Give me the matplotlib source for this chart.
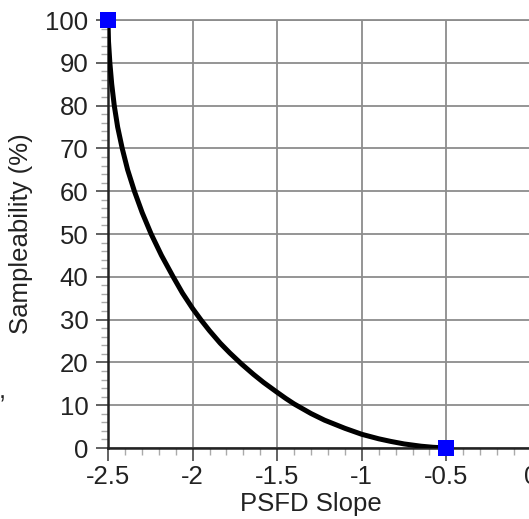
import matplotlib
matplotlib.use("Agg")
import matplotlib.pyplot as plt
from matplotlib.ticker import MultipleLocator

# Data
slope = [-2.5, -2.497, -2.489, -2.478, -2.463, -2.443, -2.416, -2.384, -2.344,
         -2.298, -2.245, -2.184, -2.115, -2.06, -2.0, -1.95, -1.9, -1.837,
         -1.78, -1.71, -1.64, -1.58, -1.5, -1.45, -1.4, -1.3, -1.22, -1.1,
         -1.0, -0.9, -0.83, -0.75, -0.65, -0.58, -0.5]
sampleability = [100, 95, 90, 85, 80, 75, 70, 65, 60,
                 55, 50, 45, 40, 36.2, 32.6, 29.9, 27.4, 24.5,
                 22.2, 19.6, 17.2, 15.3, 13.0, 11.6, 10.3, 8.05, 6.5, 4.6,
                 3.2, 2.15, 1.55, 0.95, 0.42, 0.17, 0]
end_x = [-2.5, -0.5]
end_y = [100, 0]
x_ticks = [-2.5, -2, -1.5, -1, -0.5, 0]
x_tick_labels = ["-2.5", "-2", "-1.5", "-1", "-0.5", "0"]
y_ticks = [0, 10, 20, 30, 40, 50, 60, 70, 80, 90, 100]

plt.rcParams['font.family'] = ['Liberation Sans', 'DejaVu Sans']
plt.rcParams['axes.unicode_minus'] = False

W, H = 529, 519
fig = plt.figure(figsize=(W / 100, H / 100), dpi=100)
left, right, top, bottom = 108, 531, 20, 448
ax = fig.add_axes([left / W, 1 - bottom / H, (right - left) / W, (bottom - top) / H])

ax.set_xlim(-2.5, 0)
ax.set_ylim(0, 100)
ax.set_xticks(x_ticks)
ax.set_xticklabels(x_tick_labels)
ax.set_yticks(y_ticks)
ax.xaxis.set_minor_locator(MultipleLocator(0.1))
ax.yaxis.set_minor_locator(MultipleLocator(2))

ax.grid(True, which='major', color='#8c8c8c', linewidth=1.3)
ax.set_axisbelow(True)

ax.plot(slope, sampleability, color='black', linewidth=3.6,
        solid_capstyle='round', solid_joinstyle='round', zorder=3)
ax.plot(end_x, end_y, linestyle='none', marker='s', markersize=11.5,
        color='#0000ff', markeredgewidth=0, clip_on=False, zorder=5)

for s in ['left', 'bottom']:
    ax.spines[s].set_linewidth(1.8)
    ax.spines[s].set_color('#222222')
ax.spines['top'].set_linewidth(1.3)
ax.spines['top'].set_color('#8c8c8c')
ax.spines['right'].set_visible(False)

ax.tick_params(axis='both', which='major', direction='out', length=9, width=1.3,
               color='#555555', labelsize=18.5, labelcolor='#222222')
ax.tick_params(axis='x', which='major', pad=3)
ax.tick_params(axis='y', which='major', pad=5)
ax.tick_params(axis='both', which='minor', direction='out', length=5, width=1.0,
               color='#aaaaaa')

ax.set_xlabel('PSFD Slope', fontsize=18.5, color='#222222')
ax.set_ylabel('Sampleability (%)', fontsize=18.5, color='#222222')
ax.xaxis.set_label_coords(0.48, -0.103)
ax.yaxis.set_label_coords(-0.177, 0.5)

fig.text(-0.003, 1 - 398 / H, ',', fontsize=18.5, color='#222222')

fig.savefig('out.png', dpi=100)
